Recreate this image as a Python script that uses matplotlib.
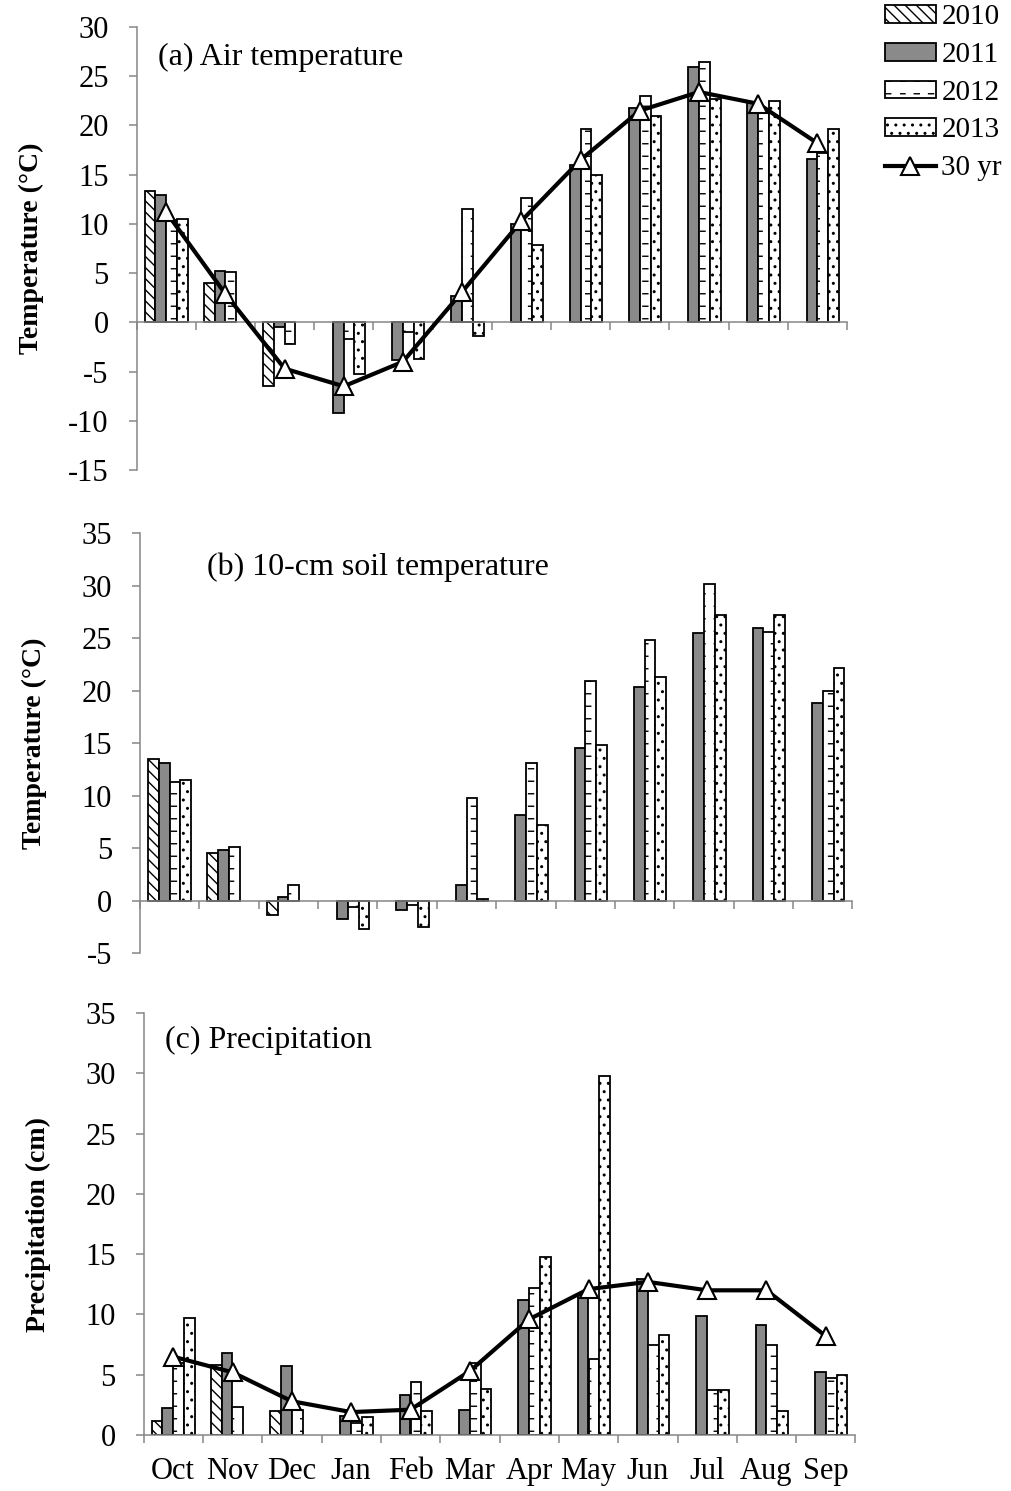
import warnings
import numpy as np
import matplotlib
matplotlib.use('Agg')
import matplotlib.pyplot as plt
import matplotlib.hatch as mhatch
from matplotlib.path import Path

warnings.filterwarnings('ignore')

months = ['Oct', 'Nov', 'Dec', 'Jan', 'Feb', 'Mar', 'Apr', 'May', 'Jun', 'Jul', 'Aug', 'Sep']
years = ['2010', '2011', '2012', '2013']
nan = np.nan

# (a) air temperature, deg C
air_2010 = [13.3, 4.0, -6.5, nan, nan, nan, nan, nan, nan, nan, nan, nan]
air_2011 = [12.9, 5.2, -0.5, -9.2, -3.8, 2.7, 10.0, 16.0, 21.8, 25.9, 22.3, 16.6]
air_2012 = [10.4, 5.1, -2.2, -1.7, -1.0, 11.5, 12.6, 19.6, 23.0, 26.4, 21.3, 17.2]
air_2013 = [10.5, nan, nan, -5.2, -3.7, -1.4, 7.9, 15.0, 21.0, 22.7, 22.5, 19.6]
air_30yr = [11.2, 2.9, -4.7, -6.5, -4.0, 3.1, 10.3, 16.5, 21.5, 23.4, 22.2, 18.2]

# (b) 10-cm soil temperature, deg C
soil_2010 = [13.5, 4.5, -1.4, nan, nan, nan, nan, nan, nan, nan, nan, nan]
soil_2011 = [13.1, 4.8, 0.3, -1.75, -0.9, 1.5, 8.1, 14.5, 20.3, 25.5, 26.0, 18.8]
soil_2012 = [11.3, 5.1, 1.5, -0.6, -0.4, 9.8, 13.1, 20.9, 24.8, 30.1, 25.6, 20.0]
soil_2013 = [11.5, nan, nan, -2.7, -2.5, 0.1, 7.2, 14.8, 21.3, 27.2, 27.2, 22.1]

# (c) precipitation, cm
prec_2010 = [1.2, 5.8, 2.0, nan, nan, nan, nan, nan, nan, nan, nan, nan]
prec_2011 = [2.2, 6.8, 5.7, 1.6, 3.3, 2.1, 11.2, 11.6, 12.9, 9.9, 9.1, 5.2]
prec_2012 = [6.0, 2.3, 2.1, 1.0, 4.4, 6.0, 12.2, 6.3, 7.5, 3.7, 7.5, 4.7]
prec_2013 = [9.7, nan, nan, 1.5, 2.0, 3.8, 14.8, 29.8, 8.3, 3.7, 2.0, 5.0]
prec_30yr = [6.5, 5.2, 2.8, 1.9, 2.1, 5.3, 9.6, 12.1, 12.7, 12.0, 12.0, 8.2]


class DashRows(mhatch.HatchPatternBase):
    """Rows of short horizontal dashes, picked with '_' in the hatch string."""
    per_row = 7
    dash = 0.05

    def __init__(self, hatch, density):
        self.num_rows = int(hatch.count('_') * density * 4 / 3)
        self.num_vertices = self.num_rows * self.per_row * 2

    def set_vertices_and_codes(self, vertices, codes):
        pts = []
        for r in range(self.num_rows):
            y = (r + 0.5) / self.num_rows
            for j in range(self.per_row):
                x0 = j / self.per_row
                pts += [(x0, y), (x0 + self.dash, y)]
        vertices[:] = pts
        codes[0::2] = Path.MOVETO
        codes[1::2] = Path.LINETO


mhatch._hatch_types.append(DashRows)

plt.rcParams['font.family'] = ['Liberation Serif', 'DejaVu Serif']
plt.rcParams['hatch.linewidth'] = 1.0
plt.rcParams['axes.unicode_minus'] = False

GREY = '#868686'
FS = 22        # tick labels
FS_TITLE = 23
FS_LEG = 21
FS_YLAB = 20
W = 1 / 5.5

bar_styles = [
    dict(facecolor='white', hatch='\\\\\\'),
    dict(facecolor='#8a8a8a', hatch=None),
    dict(facecolor='white', hatch='_'),
    dict(facecolor='white', hatch='..'),
]


def draw_panel(ax, series, normal, ylim, title, title_xy, ylabel, show_months):
    x = np.arange(len(months))
    handles = []
    for k, vals in enumerate(series):
        b = ax.bar(x + (k - 1.5) * W, vals, W, edgecolor='black', linewidth=1.3,
                   zorder=2, label=years[k], **bar_styles[k])
        handles.append(b)
    if normal is not None:
        ln, = ax.plot(x, normal, color='black', lw=3, marker='^', ms=13,
                      mfc='white', mec='black', mew=1.5, zorder=3, label='30 yr')
        handles.append(ln)

    ax.set_xlim(-0.5, len(months) - 0.5)
    ax.set_ylim(*ylim)
    ax.set_yticks(np.arange(ylim[0], ylim[1] + 1, 5))
    for s in ['top', 'right']:
        ax.spines[s].set_visible(False)
    for s in ['left', 'bottom']:
        ax.spines[s].set_color(GREY)
        ax.spines[s].set_linewidth(1.1)
    ax.spines['bottom'].set_position(('data', 0))

    ax.set_xticks(x)
    ax.set_xticks(np.arange(-0.5, len(months), 1), minor=True)
    ax.tick_params(axis='x', which='major', length=0, pad=16, labelsize=FS,
                   labelbottom=show_months)
    ax.tick_params(axis='x', which='minor', length=6, width=1.1, color=GREY,
                   direction='out')
    ax.tick_params(axis='y', length=6, width=1.1, color=GREY, labelsize=FS, pad=14)
    if show_months:
        ax.set_xticklabels(months)

    ax.text(title_xy[0], title_xy[1], title, transform=ax.transAxes,
            fontsize=FS_TITLE, ha='left', va='center')
    ax.set_ylabel(ylabel, fontsize=FS_YLAB, fontweight='bold')
    ax.yaxis.set_label_coords(-0.13, 0.5)
    return handles


fig = plt.figure(figsize=(10.11, 14.91), dpi=100)
H = 1491
Wf = 1011
ax_a = fig.add_axes([136.5 / Wf, 1 - 470 / H, 710.5 / Wf, 443 / H])
ax_b = fig.add_axes([140 / Wf, 1 - 953 / H, 712.5 / Wf, 420 / H])
ax_c = fig.add_axes([143.5 / Wf, 1 - 1435 / H, 712 / Wf, 422 / H])

handles = draw_panel(ax_a, [air_2010, air_2011, air_2012, air_2013], air_30yr,
                     (-15, 30), '(a) Air temperature', (0.030, 0.932),
                     'Temperature (°C)', False)
draw_panel(ax_b, [soil_2010, soil_2011, soil_2012, soil_2013], None,
           (-5, 35), '(b) 10-cm soil temperature', (0.094, 0.919),
           'Temperature (°C)', False)
draw_panel(ax_c, [prec_2010, prec_2011, prec_2012, prec_2013], prec_30yr,
           (0, 35), '(c) Precipitation', (0.03, 0.936),
           'Precipitation (cm)', True)

fig.legend(handles, years + ['30 yr'], loc='upper right', bbox_to_anchor=(0.991, 0.997),
           frameon=False, fontsize=FS_LEG, handlelength=1.75, handleheight=0.55,
           handletextpad=0.2, labelspacing=0.4, borderaxespad=0, borderpad=0)

fig.savefig('out.png', dpi=100)
